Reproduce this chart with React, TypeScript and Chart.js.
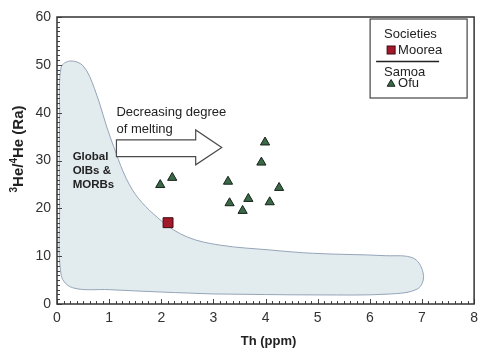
import React, { useEffect, useRef } from 'react';
import { Chart, registerables } from 'chart.js';

Chart.register(...registerables);

const FONT = '"Liberation Sans", Arial, Helvetica, sans-serif';

// Axis ranges and tick labels
const xTickValues = [0, 1, 2, 3, 4, 5, 6, 7, 8];
const yTickValues = [0, 10, 20, 30, 40, 50, 60];

// Samoa – Ofu samples: Th (ppm) and 3He/4He (Ra)
const ofuTh = [1.98, 2.21, 3.28, 3.31, 3.56, 3.67, 3.92, 3.99, 4.08, 4.26];
const ofuHe = [24.9, 26.4, 25.6, 21.1, 19.5, 22.0, 29.6, 33.8, 21.3, 24.3];

// Societies – Moorea sample
const mooreaTh = [2.13];
const mooreaHe = [17.0];

// Outline of the global OIB & MORB field (closed loop)
const fieldTh = [3.0, 5.0, 6.4, 6.92, 7.03, 6.85, 6.3, 4.9, 4.08, 3.13, 2.5, 2.0, 1.45, 1.04, 0.72, 0.5, 0.25, 0.08, 0.05, 0.05, 0.08, 0.3, 1.0, 2.0, 3.0];
const fieldHe = [2.1, 1.9, 2.1, 3.2, 6.0, 9.5, 10.1, 10.6, 11.3, 12.3, 14.0, 17.4, 23.8, 34.3, 45.0, 49.8, 50.8, 49.5, 40.0, 20.0, 6.0, 3.4, 3.0, 2.5, 2.1];

// Block arrow outline (data units)
const arrowTh = [1.14, 2.66, 2.66, 3.16, 2.66, 2.66, 1.14];
const arrowHe = [34.3, 34.3, 36.4, 32.7, 29.1, 30.8, 30.8];

const TRI_FILL = '#3b6847';
const TRI_EDGE = '#15231a';
const SQ_FILL = '#a3192b';
const SQ_EDGE = '#3d0b12';

function drawTriangle(ctx: CanvasRenderingContext2D, cx: number, cy: number, r: number) {
  ctx.beginPath();
  for (let i = 0; i < 3; i++) {
    const a = (i * 2 * Math.PI) / 3;
    const px = cx + Math.sin(a) * r;
    const py = cy - Math.cos(a) * r;
    if (i === 0) ctx.moveTo(px, py);
    else ctx.lineTo(px, py);
  }
  ctx.closePath();
  ctx.fillStyle = TRI_FILL;
  ctx.fill();
  ctx.strokeStyle = TRI_EDGE;
  ctx.lineWidth = 1;
  ctx.stroke();
}

const decorPlugin = {
  id: 'decor',
  afterDatasetsDraw(chart: any) {
    const { ctx, chartArea: a, scales } = chart;
    const xs = scales.x;
    const ys = scales.y;
    const px = (v: number) => xs.getPixelForValue(v);
    const py = (v: number) => ys.getPixelForValue(v);

    ctx.save();

    // block arrow
    ctx.beginPath();
    arrowTh.forEach((t, i) => {
      if (i === 0) ctx.moveTo(px(t), py(arrowHe[i]));
      else ctx.lineTo(px(t), py(arrowHe[i]));
    });
    ctx.closePath();
    ctx.fillStyle = '#ffffff';
    ctx.fill();
    ctx.strokeStyle = '#4a4a4a';
    ctx.lineWidth = 1.2;
    ctx.stroke();

    // annotation text
    ctx.fillStyle = '#222';
    ctx.textAlign = 'left';
    ctx.textBaseline = 'middle';
    ctx.font = `13px ${FONT}`;
    ctx.fillText('Decreasing degree', px(1.14), py(40.0));
    ctx.fillText('of melting', px(1.14), py(36.4));

    ctx.font = `bold 11.5px ${FONT}`;
    ctx.fillText('Global', px(0.3), py(30.8));
    ctx.fillText('OIBs &', px(0.3), py(27.9));
    ctx.fillText('MORBs', px(0.3), py(25.0));

    // minor ticks on the axes
    ctx.strokeStyle = '#444';
    ctx.lineWidth = 1;
    for (let i = 0; i <= 64; i++) {
      const v = i * 0.125;
      const x = Math.round(px(v)) + 0.5;
      const len = i % 8 === 0 ? 5 : 3;
      ctx.beginPath();
      ctx.moveTo(x, a.bottom);
      ctx.lineTo(x, a.bottom - len);
      ctx.stroke();
    }
    for (let v = 0; v <= 60; v++) {
      const y = Math.round(py(v)) + 0.5;
      const len = v % 10 === 0 ? 5 : 3;
      ctx.beginPath();
      ctx.moveTo(a.left, y);
      ctx.lineTo(a.left + len, y);
      ctx.stroke();
    }

    // plot frame
    ctx.strokeStyle = '#333';
    ctx.lineWidth = 1.5;
    ctx.strokeRect(a.left, a.top, a.right - a.left, a.bottom - a.top);

    // legend box
    const bx = a.right - 104;
    const by = a.top + 2;
    const bw = 97;
    const bh = 79;
    ctx.fillStyle = '#fff';
    ctx.fillRect(bx, by, bw, bh);
    ctx.strokeStyle = '#444';
    ctx.lineWidth = 1.2;
    ctx.strokeRect(bx, by, bw, bh);

    ctx.fillStyle = '#222';
    ctx.font = `13px ${FONT}`;
    ctx.fillText('Societies', bx + 14, by + 15);
    ctx.fillStyle = SQ_FILL;
    ctx.fillRect(bx + 17, by + 27, 8, 8);
    ctx.strokeStyle = SQ_EDGE;
    ctx.lineWidth = 1;
    ctx.strokeRect(bx + 17, by + 27, 8, 8);
    ctx.fillStyle = '#222';
    ctx.fillText('Moorea', bx + 28, by + 31.5);

    ctx.strokeStyle = '#222';
    ctx.lineWidth = 1.5;
    ctx.beginPath();
    ctx.moveTo(bx + 6, by + 42.5);
    ctx.lineTo(bx + 69, by + 42.5);
    ctx.stroke();

    ctx.fillStyle = '#222';
    ctx.fillText('Samoa', bx + 14, by + 53);
    drawTriangle(ctx, bx + 21, by + 65, 4.5);
    ctx.fillStyle = '#222';
    ctx.fillText('Ofu', bx + 28, by + 64.5);

    ctx.restore();
  },
  afterDraw(chart: any) {
    const { ctx, chartArea: a } = chart;
    ctx.save();
    // x-axis title
    ctx.fillStyle = '#222';
    ctx.font = `bold 13px ${FONT}`;
    ctx.textAlign = 'center';
    ctx.textBaseline = 'middle';
    ctx.fillText('Th (ppm)', (a.left + a.right) / 2 + 3, 341);

    // y-axis title with superscripts, reading bottom to top
    const parts: [string, boolean][] = [
      ['3', true],
      ['He/', false],
      ['4', true],
      ['He (Ra)', false],
    ];
    const big = `bold 15px ${FONT}`;
    const small = `bold 10px ${FONT}`;
    let total = 0;
    parts.forEach(([t, sup]) => {
      ctx.font = sup ? small : big;
      total += ctx.measureText(t).width;
    });
    ctx.translate(17, 149);
    ctx.rotate(-Math.PI / 2);
    ctx.textAlign = 'left';
    ctx.textBaseline = 'alphabetic';
    let cx = -total / 2;
    parts.forEach(([t, sup]) => {
      ctx.font = sup ? small : big;
      ctx.fillText(t, cx, sup ? -0.5 : 5.5);
      cx += ctx.measureText(t).width;
    });
    ctx.restore();
  },
};

export default function App() {
  const canvasRef = useRef<HTMLCanvasElement | null>(null);

  useEffect(() => {
    document.body.style.margin = '0';
    const canvas = canvasRef.current;
    if (!canvas) return;

    const chart = new Chart(canvas, {
      type: 'scatter',
      data: {
        datasets: [
          {
            label: 'Global OIBs & MORBs',
            data: fieldTh.map((t, i) => ({ x: t, y: fieldHe[i] })),
            showLine: true,
            fill: 'shape',
            tension: 0.35,
            pointRadius: 0,
            borderColor: '#95a4b8',
            borderWidth: 1,
            backgroundColor: '#e2ebee',
            order: 3,
          },
          {
            label: 'Moorea',
            data: mooreaTh.map((t, i) => ({ x: t, y: mooreaHe[i] })),
            pointStyle: 'rect',
            pointRadius: 7,
            backgroundColor: SQ_FILL,
            borderColor: SQ_EDGE,
            borderWidth: 1,
            order: 2,
          },
          {
            label: 'Ofu',
            data: ofuTh.map((t, i) => ({ x: t, y: ofuHe[i] })),
            pointStyle: 'triangle',
            pointRadius: 5.3,
            backgroundColor: TRI_FILL,
            borderColor: TRI_EDGE,
            borderWidth: 1,
            order: 1,
          },
        ],
      },
      options: {
        animation: false,
        responsive: false,
        maintainAspectRatio: false,
        layout: { padding: { top: 17, right: 6, left: 0, bottom: 0 } },
        plugins: {
          legend: { display: false },
          tooltip: { enabled: false },
        },
        scales: {
          x: {
            type: 'linear',
            min: 0,
            max: 8,
            afterBuildTicks: (s: any) => {
              s.ticks = xTickValues.map((v) => ({ value: v }));
            },
            afterFit: (s: any) => {
              s.height = 44;
            },
            ticks: {
              color: '#333',
              font: { family: FONT, size: 14 },
              padding: 6,
              maxRotation: 0,
              autoSkip: false,
            },
            grid: { display: false, drawTicks: false },
            border: { display: false },
          },
          y: {
            type: 'linear',
            min: 0,
            max: 60,
            afterBuildTicks: (s: any) => {
              s.ticks = yTickValues.map((v) => ({ value: v }));
            },
            afterFit: (s: any) => {
              s.width = 57;
            },
            ticks: {
              color: '#333',
              font: { family: FONT, size: 14 },
              padding: 6,
              autoSkip: false,
            },
            grid: { display: false, drawTicks: false },
            border: { display: false },
          },
        },
      },
      plugins: [decorPlugin],
    });

    return () => chart.destroy();
  }, []);

  return (
    <div style={{ position: 'fixed', left: 0, top: 0, width: 484, height: 348, background: '#fff' }}>
      <canvas ref={canvasRef} width={484} height={348} />
    </div>
  );
}
